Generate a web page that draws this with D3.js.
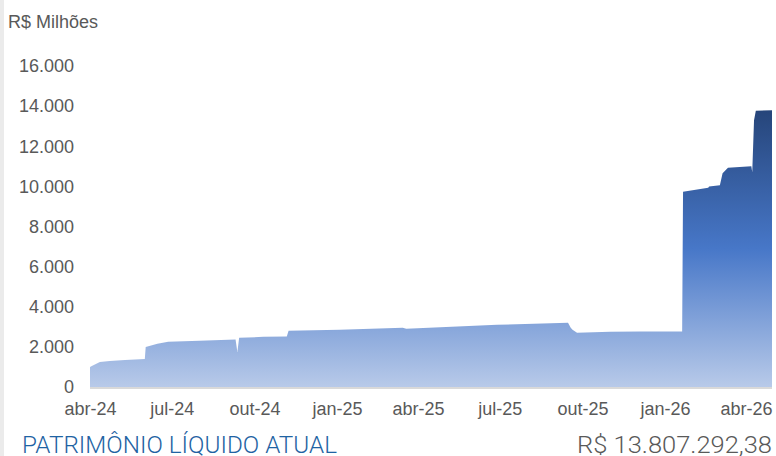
<!DOCTYPE html>
<html>
<head>
<meta charset="utf-8">
<script src="https://cdn.jsdelivr.net/npm/d3@7"></script>
<style>
  body { margin: 0; background: #fff; }
  svg { display: block; }
</style>
</head>
<body>
<script>
// patrimonio liquido, R$ milhoes
const dates = ["2024-04-01","2024-04-03","2024-04-12","2024-04-23","2024-05-10","2024-06-01","2024-06-02",
  "2024-06-15","2024-06-27","2024-08-01","2024-09-10","2024-09-12","2024-09-14","2024-10-11","2024-11-06",
  "2024-11-08","2025-01-04","2025-03-15","2025-03-19","2025-06-28","2025-09-15","2025-09-18","2025-09-20",
  "2025-09-25","2025-11-01","2025-12-04","2026-01-20","2026-01-21","2026-02-18","2026-02-19","2026-03-03",
  "2026-03-06","2026-03-12","2026-04-07","2026-04-08","2026-04-10","2026-04-12","2026-04-30"];
const values = [1000,1050,1250,1300,1350,1400,2000,
  2150,2250,2300,2370,1750,2450,2500,2520,
  2800,2850,2950,2900,3100,3200,2950,2850,
  2700,2750,2770,2770,9730,9930,10000,10050,
  10650,10930,11000,10700,13300,13770,13800];
const yTicks = [0,2000,4000,6000,8000,10000,12000,14000,16000];
const xTicks = ["2024-04-01","2024-07-01","2024-10-01","2025-01-01","2025-04-01","2025-07-01","2025-10-01","2026-01-01","2026-04-01"];
const monthNames = ["jan","fev","mar","abr","mai","jun","jul","ago","set","out","nov","dez"];

const width = 776, height = 456;
const parse = d3.utcParse("%Y-%m-%d");
const data = dates.map((d, i) => ({date: parse(d), value: values[i]}));

const ptBR = d3.formatLocale({decimal: ",", thousands: ".", grouping: [3], currency: ["R$", ""]});
const fmt = ptBR.format(",.0f");

const x = d3.scaleUtc()
  .domain([parse("2024-04-01"), parse("2026-04-30")])
  .range([90, 772]);
const y = d3.scaleLinear()
  .domain([0, 16000])
  .range([387, 66]);

const svg = d3.select("body").append("svg")
  .attr("width", width)
  .attr("height", height)
  .style("font-family", "'Liberation Sans', Arial, sans-serif");

// grey strip on the left edge
svg.append("rect")
  .attr("x", 0).attr("y", 0)
  .attr("width", 4).attr("height", height)
  .attr("fill", "#ebebeb");

const defs = svg.append("defs");
const grad = defs.append("linearGradient")
  .attr("id", "areaGrad")
  .attr("gradientUnits", "userSpaceOnUse")
  .attr("x1", 0).attr("x2", 0)
  .attr("y1", y(d3.max(values))).attr("y2", y(0));
grad.append("stop").attr("offset", "0%").attr("stop-color", "#26457a");
grad.append("stop").attr("offset", "50%").attr("stop-color", "#4777c8");
grad.append("stop").attr("offset", "100%").attr("stop-color", "#b8cae9");

const area = d3.area()
  .x(d => x(d.date))
  .y0(y(0))
  .y1(d => y(d.value));

svg.append("path")
  .datum(data)
  .attr("d", area)
  .attr("fill", "url(#areaGrad)");

// baseline
svg.append("line")
  .attr("x1", x.range()[0]).attr("x2", x.range()[1])
  .attr("y1", y(0) + 1).attr("y2", y(0) + 1)
  .attr("stroke", "#d9d9d9")
  .attr("stroke-width", 2);

const yAxis = svg.append("g")
  .attr("transform", "translate(74,0)")
  .call(d3.axisLeft(y).tickValues(yTicks).tickFormat(fmt).tickSize(0).tickPadding(0));
yAxis.select(".domain").remove();
yAxis.selectAll("text")
  .style("font-size", "18px")
  .style("font-family", "'Liberation Sans', Arial, sans-serif")
  .attr("fill", "#595959");

const xAxis = svg.append("g")
  .attr("transform", "translate(0,402)")
  .call(d3.axisBottom(x)
    .tickValues(xTicks.map(parse))
    .tickFormat(d => monthNames[d.getUTCMonth()] + "-" + String(d.getUTCFullYear()).slice(2))
    .tickSize(0).tickPadding(0));
xAxis.select(".domain").remove();
xAxis.selectAll("text")
  .style("font-size", "18px")
  .style("font-family", "'Liberation Sans', Arial, sans-serif")
  .attr("fill", "#595959");

svg.append("text")
  .attr("x", 8).attr("y", 28)
  .style("font-size", "18px")
  .attr("fill", "#595959")
  .text("R$ Milhões");

svg.append("text")
  .attr("x", 22).attr("y", 453)
  .attr("textLength", 315)
  .attr("lengthAdjust", "spacingAndGlyphs")
  .style("font-family", "Roboto, sans-serif")
  .style("font-weight", 300)
  .style("font-size", "23px")
  .attr("fill", "#1f63a3")
  .text("PATRIMÔNIO LÍQUIDO ATUAL");

svg.append("text")
  .attr("x", 772).attr("y", 453)
  .attr("text-anchor", "end")
  .attr("textLength", 195)
  .attr("lengthAdjust", "spacingAndGlyphs")
  .style("font-family", "Roboto, sans-serif")
  .style("font-weight", 300)
  .style("font-size", "23px")
  .attr("fill", "#595959")
  .text("R$ 13.807.292,38");
</script>
</body>
</html>
